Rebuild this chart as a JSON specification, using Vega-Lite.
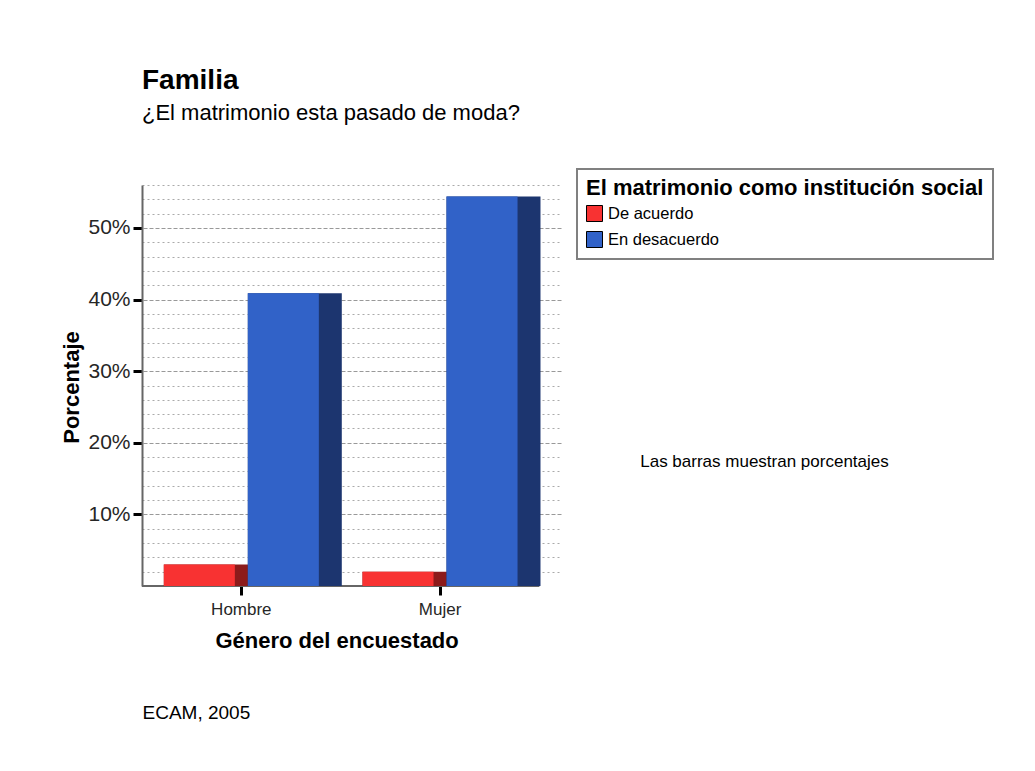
{
  "$schema": "https://vega.github.io/schema/vega-lite/v6.json",
  "width": 419,
  "height": 401,
  "autosize": {"type": "none"},
  "padding": {"left": 142, "top": 185, "right": 474, "bottom": 185},
  "background": "white",
  "config": {"font": "Liberation Sans", "view": {"stroke": null}},
  "title": {
    "text": "Familia",
    "subtitle": "¿El matrimonio esta pasado de moda?",
    "anchor": "start",
    "frame": "group",
    "fontSize": 28,
    "fontWeight": "bold",
    "color": "black",
    "subtitleFontSize": 22,
    "subtitleColor": "black",
    "subtitlePadding": 8,
    "offset": 44
  },
  "data": {"values": [
    {"genero": "Hombre", "serie": "De acuerdo", "porcentaje": 3.0},
    {"genero": "Hombre", "serie": "En desacuerdo", "porcentaje": 40.9},
    {"genero": "Mujer", "serie": "De acuerdo", "porcentaje": 2.0},
    {"genero": "Mujer", "serie": "En desacuerdo", "porcentaje": 54.4}
  ]},
  "layer": [
    {
      "data": {"values": [{"base": 0}]},
      "mark": {"type": "rule", "color": "#666666", "strokeWidth": 2},
      "encoding": {
        "x": {"datum": "Hombre", "type": "nominal", "bandPosition": 0, "axis": null},
        "x2": {"datum": "Mujer", "bandPosition": 1},
        "y": {"field": "base", "type": "quantitative", "axis": null}
      }
    },
    {
      "mark": {"type": "bar", "width": 94},
      "encoding": {
        "x": {
          "field": "genero", "type": "nominal", "sort": ["Hombre", "Mujer"],
          "scale": {"domain": ["Hombre", "Mujer"], "paddingInner": 0, "paddingOuter": 0.0544, "align": 0},
          "axis": {
            "domain": false, "grid": false,
            "tickColor": "black", "tickWidth": 3, "tickSize": 9,
            "labelFontSize": 17, "labelColor": "#262626", "labelPadding": 6, "labelAngle": 0,
            "title": "Género del encuestado", "titleFontSize": 22, "titleFontWeight": "bold", "titleColor": "black",
            "titleX": 194.6, "titleY": 61.3, "titleAlign": "center", "titleBaseline": "alphabetic"
          }
        },
        "xOffset": {
          "field": "serie", "type": "nominal", "sort": ["De acuerdo", "En desacuerdo"],
          "scale": {"paddingInner": 0, "paddingOuter": 0.1827, "align": 0.873}
        },
        "y": {
          "field": "porcentaje", "type": "quantitative",
          "scale": {"domain": [0, 56], "nice": false},
          "axis": {
            "values": [2, 4, 6, 8, 10, 12, 14, 16, 18, 20, 22, 24, 26, 28, 30, 32, 34, 36, 38, 40, 42, 44, 46, 48, 50, 52, 54, 56],
            "labelExpr": "datum.value % 10 === 0 ? datum.value + '%' : ''",
            "grid": true,
            "gridDash": [2, 3],
            "gridColor": "#aaaaaa",
            "gridOpacity": {"condition": {"test": "datum.value % 10 === 0", "value": 0}, "value": 1},
            "gridWidth": 1,
            "tickOpacity": {"condition": {"test": "datum.value % 10 === 0", "value": 1}, "value": 0},
            "tickColor": "black", "tickWidth": 3, "tickSize": 9,
            "domainColor": "#666666", "domainWidth": 2,
            "labelFontSize": 21, "labelColor": "#262626", "labelPadding": 3,
            "labelOverlap": false, "labelFlush": false,
            "title": "Porcentaje", "titleFontSize": 22, "titleFontWeight": "bold", "titleColor": "black",
            "titleAngle": -90, "titleX": -64, "titleY": 202, "titleAlign": "center", "titleBaseline": "alphabetic"
          }
        },
        "color": {
          "condition": {"test": "datum.serie === 'De acuerdo'", "value": "#8c1b1b"},
          "value": "#1c356f"
        }
      }
    },
    {
      "mark": {"type": "bar", "width": 71},
      "encoding": {
        "x": {
          "field": "genero", "type": "nominal", "sort": ["Hombre", "Mujer"],
          "scale": {"domain": ["Hombre", "Mujer"], "paddingInner": 0, "paddingOuter": 0.0544, "align": 0},
          "axis": {
            "orient": "bottom", "domain": false, "ticks": false, "labels": false, "grid": false,
            "title": "ECAM, 2005", "titleFontSize": 19, "titleFontWeight": "normal", "titleColor": "black",
            "titleX": 0, "titleY": 132.6, "titleAlign": "left", "titleBaseline": "alphabetic"
          }
        },
        "xOffset": {
          "field": "serie", "type": "nominal", "sort": ["De acuerdo", "En desacuerdo"],
          "scale": {"paddingInner": 0, "paddingOuter": 0.1827, "align": 0.5}
        },
        "y": {
          "field": "porcentaje", "type": "quantitative",
          "scale": {"domain": [0, 56], "nice": false},
          "axis": {
            "orient": "right", "domain": false, "ticks": false, "labels": false,
            "values": [10, 20, 30, 40, 50],
            "grid": true, "gridDash": [4, 2], "gridColor": "#999999", "gridWidth": 1,
            "title": "Las barras muestran porcentajes", "titleAngle": 0, "titleFontSize": 17,
            "titleFontWeight": "normal", "titleColor": "black",
            "titleX": 203, "titleY": 281, "titleAlign": "center", "titleBaseline": "alphabetic"
          }
        },
        "color": {
          "field": "serie", "type": "nominal",
          "scale": {"domain": ["De acuerdo", "En desacuerdo"], "range": ["#f83232", "#3162c8"]},
          "legend": {
            "title": "El matrimonio como institución social",
            "orient": "none", "legendX": 435, "legendY": -16, "direction": "vertical",
            "padding": 9, "strokeColor": "#808080", "fillColor": "white",
            "titleFontSize": 22, "titleFontWeight": "bold", "titleColor": "black", "titlePadding": 5, "titleLimit": 600,
            "labelFontSize": 16.5, "labelColor": "black", "labelOffset": 5, "labelLimit": 400,
            "symbolType": "square", "symbolSize": 256, "symbolStrokeColor": "black", "symbolStrokeWidth": 1,
            "symbolOpacity": 1, "rowPadding": 5,
            "encode": {
              "legend": {"update": {"strokeWidth": {"value": 2}}},
              "symbols": {"update": {"stroke": {"value": "black"}, "strokeWidth": {"value": 1}}}
            }
          }
        }
      }
    }
  ],
  "resolve": {
    "scale": {"xOffset": "independent"},
    "axis": {"x": "independent", "y": "independent"}
  }
}
